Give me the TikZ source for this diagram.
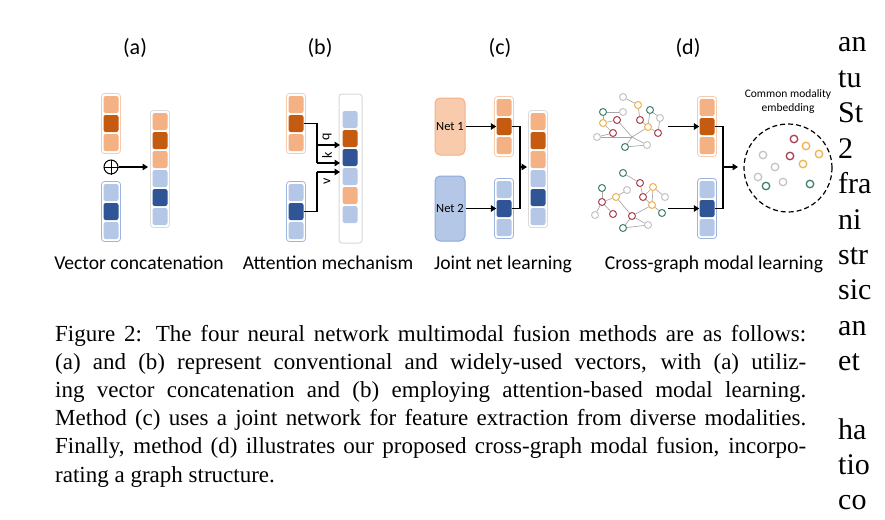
\documentclass[tikz,border=0pt]{standalone}
\usepackage{fontspec}
\setmainfont{Liberation Serif}
\newfontfamily\calibri{Carlito}
\usetikzlibrary{arrows.meta,calc}
\definecolor{lo}{HTML}{F4B183}
\definecolor{do}{HTML}{C55A11}
\definecolor{lb}{HTML}{B4C7E7}
\definecolor{db}{HTML}{2F5597}
\definecolor{oline}{HTML}{F8CBAD}
\definecolor{bline}{HTML}{9DB5DE}
\definecolor{gline}{HTML}{DADADA}
\definecolor{net1f}{HTML}{F8CBAD}
\definecolor{net1d}{HTML}{F4B183}
\definecolor{net2f}{HTML}{B4C7E7}
\definecolor{net2d}{HTML}{8FAADC}
\definecolor{gor}{HTML}{F2B24C}
\definecolor{gred}{HTML}{A8404F}
\definecolor{ggr}{HTML}{3F7F6E}
\definecolor{ggy}{HTML}{C4C4C4}
\definecolor{edgegray}{HTML}{A6A6A6}
\tikzset{
  cell/.style={rounded corners=2.2pt, minimum width=15pt, minimum height=17pt, inner sep=0pt, draw=none},
  outl/.style={rounded corners=3pt, line width=0.8pt},
  arr/.style={line width=1.6pt, -{Triangle[length=5.5pt,width=6.5pt]}},
  conn/.style={line width=1.4pt},
  gnode/.style={circle, draw, fill=white, line width=1pt, minimum size=7pt, inner sep=0pt},
  gedge/.style={line width=0.65pt, draw=edgegray},
  embn/.style={circle, draw, line width=1.3pt, minimum size=7.5pt, inner sep=0pt},
  netbox/.style={rounded corners=5pt, line width=1pt, minimum width=30pt, inner sep=0pt, font=\calibri\fontsize{12.5}{14}\selectfont},
  lab/.style={font=\calibri\fontsize{19.6}{22}\selectfont, anchor=base, inner sep=0pt},
  ttl/.style={font=\calibri\fontsize{22}{26}\selectfont, inner sep=0pt},
  qkv/.style={font=\calibri\fontsize{14}{16}\selectfont, rotate=90, inner sep=0pt},
  capline/.style={font=\fontsize{23}{28}\selectfont, anchor=base west, inner sep=0pt},
  bodyline/.style={font=\fontsize{30}{35}\selectfont, anchor=base west, inner sep=0pt},
}
% name, x center, y top, number of cells, colours, outline colour
\newcommand{\vecbar}[6]{%
  \draw[outl, draw=#6] ({#2-9.5},{#3-1.5}) rectangle ({#2+9.5},{#3+19*#4+1.5});
  \foreach \c [count=\i] in {#5} {
    \node[cell, fill=\c] (#1-\i) at (#2,{#3+9.5+19*(\i-1)}) {};
  }%
}
\begin{document}
\begin{tikzpicture}[x=1pt,y=-1pt]
\useasboundingbox (0,0) rectangle (885,519);
\clip (0,0) rectangle (885,519);
\fill[white] (0,0) rectangle (885,519);

% titles
\node[ttl] (ta) at (135,48) {(a)};
\node[ttl] (tb) at (320,48) {(b)};
\node[ttl] (tc) at (500,48) {(c)};
\node[ttl] (td) at (688,48) {(d)};

% ---------- (a)
\vecbar{a1}{111}{95}{3}{lo,do,lo}{oline}
\vecbar{a2}{111}{183}{3}{lb,db,lb}{bline}
\node[circle, draw, line width=1pt, minimum size=14pt, inner sep=0pt] (plus) at (111,167) {};
\draw[line width=1pt] (plus.north) -- (plus.south) (plus.west) -- (plus.east);
\vecbar{a3}{160}{112}{6}{lo,do,lo,lb,db,lb}{gline}
\coordinate (a3in) at (148,167);
\draw[arr] (plus) -- (a3in);

% ---------- (b)
\vecbar{b1}{296}{95}{3}{lo,do,lo}{oline}
\vecbar{b2}{296}{183}{3}{lb,db,lb}{bline}
\node[draw=gline, rounded corners=3pt, line width=1pt, minimum width=23pt, minimum height=149pt, inner sep=0pt] (bbox) at (350.5,168.5) {};
\vecbar{b3}{350}{110}{6}{lb,do,db,lb,lo,lb}{none}
\coordinate (qj) at (317,145);
\coordinate (kj) at (317,163);
\coordinate (vj) at (317,172);
\coordinate (qt) at (340,145);
\coordinate (kt) at (340,163);
\coordinate (vt) at (340,172);
\draw[conn] (b1-2.east) -| (kj);
\draw[arr] (qj) -- (qt);
\draw[arr] (kj) -- (kt);
\draw[conn] (b2-2.east) -| (vj);
\draw[arr] (vj) -- (vt);
\node[qkv] (lq) at (327,137) {q};
\node[qkv] (lk) at (327,155) {k};
\node[qkv] (lv) at (327,181) {v};

% ---------- (c)
\node[netbox, fill=net1f, draw=net1d, minimum height=57pt] (n1) at (450,126.5) {Net 1};
\node[netbox, fill=net2f, draw=net2d, minimum height=65pt] (n2) at (450,208.5) {Net 2};
\vecbar{c1}{504}{98}{3}{lo,do,lo}{oline}
\vecbar{c2}{504}{180}{3}{lb,db,lb}{bline}
\draw[arr] (n1) -- (c1-2);
\draw[arr] (n2) -- (c2-2);
\vecbar{c3}{538}{112}{6}{lo,do,lo,lb,db,lb}{gline}
\coordinate (cj) at (520,167);
\coordinate (cin) at (527,167);
\draw[conn] (c1-2.east) -| (cj) |- (c2-2.east);
\draw[arr] (cj) -- (cin);

% ---------- (d) graphs
\foreach \n/\x/\y/\c in {u1/623/97/ggy,u2/638/105/gor,u3/603/112/ggr,u4/623/112/ggy,u5/650/110/ggr,
  u6/603/123/gor,u7/617/120/gred,u8/640/120/gred,u9/660/118/ggy,u10/648/127/gor,u11/658/133/gred,
  u12/613/133/gred,u13/597/137/ggy,u15/625/147/ggr,u16/647/145/ggy}
  \node[gnode, draw=\c] (\n) at (\x,\y) {};
\coordinate (u14) at (632,137);
\foreach \a/\b in {u1/u2,u2/u8,u3/u4,u3/u6,u6/u7,u6/u12,u7/u14,u12/u13,u13/u14,u14/u10,u14/u15,
  u15/u16,u16/u14,u8/u10,u5/u10,u5/u9,u9/u11,u10/u11}
  \draw[gedge] (\a) -- (\b);
\foreach \n/\x/\y/\c in {l1/623/173/ggr,l2/640/183/gred,l3/602/188/ggr,l4/627/190/ggy,l5/653/187/gor,
  l6/616/197/gor,l7/643/197/gred,l8/665/197/ggy,l9/602/202/gred,l10/652/205/gor,l11/595/215/ggy,
  l12/613/214/gred,l13/662/213/ggr,l14/632/216/gred,l15/623/228/ggr,l16/648/225/ggy}
  \node[gnode, draw=\c] (\n) at (\x,\y) {};
\foreach \a/\b in {l1/l2,l2/l7,l3/l9,l9/l6,l6/l4,l9/l11,l9/l12,l6/l14,l14/l10,l10/l7,l7/l5,l5/l8,
  l5/l10,l10/l13,l14/l15,l15/l16,l14/l16}
  \draw[gedge] (\a) -- (\b);

\vecbar{d1}{707}{98}{3}{lo,do,lo}{oline}
\vecbar{d2}{707}{180}{3}{lb,db,lb}{bline}
\coordinate (g1o) at (668,126.5);
\coordinate (g2o) at (668,208.5);
\draw[arr] (g1o) -- (d1-2.west);
\draw[arr] (g2o) -- (d2-2.west);
\node[circle, draw, line width=1.2pt, dash pattern=on 5pt off 3pt, minimum size=88pt, inner sep=0pt] (embc) at (788,168) {};
\coordinate (dj) at (723,167);
\coordinate (dt) at (738,167);
\draw[conn] (d1-2.east) -| (dj) |- (d2-2.east);
\draw[arr] (dj) -- (dt);
\node[font=\calibri\fontsize{11.5}{14}\selectfont, align=center, inner sep=0pt] (embt) at (788,101) {Common modality\\embedding};
\foreach \n/\x/\y/\c in {e1/794/139/gred,e2/806/146/gor,e3/819/154/gor,e4/790/156/gred,e5/803/164/gor,
  e6/763/155/ggy,e7/775/167/ggy,e8/758/177/ggy,e9/766/186/ggr,e10/783/182/ggy,e11/810/184/ggr}
  \node[embn, draw=\c] (\n) at (\x,\y) {};

% bottom labels
\node[lab] (la) at (139,269) {Vector concatenation};
\node[lab] (lb) at (328,269) {Attention mechanism};
\node[lab] (lc) at (503,269) {Joint net learning};
\node[lab] (ld) at (714,269) {Cross-graph modal learning};

% caption
\node[capline] (c1) at (55,341) {\makebox[751pt][s]{Figure 2: The four neural network multimodal fusion methods are as follows:}};
\node[capline] (c2) at (55,369.2) {\makebox[751pt][s]{(a) and (b) represent conventional and widely-used vectors, with (a) utiliz-}};
\node[capline] (c3) at (55,397.4) {\makebox[751pt][s]{ing vector concatenation and (b) employing attention-based modal learning.}};
\node[capline] (c4) at (55,425.6) {\makebox[751pt][s]{Method (c) uses a joint network for feature extraction from diverse modalities.}};
\node[capline] (c5) at (55,453.8) {\makebox[751pt][s]{Finally, method (d) illustrates our proposed cross-graph modal fusion, incorpo-}};
\node[capline] (c6) at (55,482) {rating a graph structure.};

% neighbouring column
\foreach \t [count=\i from 0] in {an,tu,St,2,fra,ni,str,sic,an,et}
  \node[bodyline] (r\i) at (838,{52+35.4*\i}) {\t};
\node[bodyline] (r10) at (838,439) {ha};
\node[bodyline] (r11) at (838,474) {tio};
\node[bodyline] (r12) at (838,509) {co};
\end{tikzpicture}
\end{document}
